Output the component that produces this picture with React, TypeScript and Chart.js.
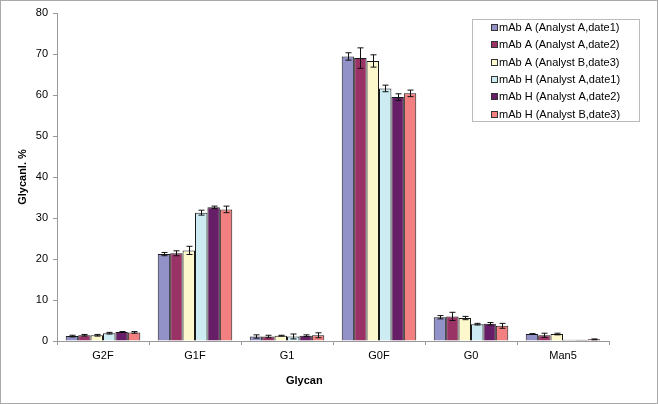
import React, { useEffect, useRef } from "react";
import { Chart, registerables } from "chart.js";

Chart.register(...registerables);

const categories = ["G2F", "G1F", "G1", "G0F", "G0", "Man5"];
const seriesNames = [
  "mAb A (Analyst A,date1)",
  "mAb A (Analyst A,date2)",
  "mAb A (Analyst B,date3)",
  "mAb H (Analyst A,date1)",
  "mAb H (Analyst A,date2)",
  "mAb H (Analyst B,date3)",
];
const seriesColors = ["#9292c9", "#993366", "#fcf8cc", "#cdebf3", "#661e66", "#f38080"];

const mAbA_d1 = [1.2, 21.2, 1.1, 69.4, 5.8, 1.7];
const mAbA_d2 = [1.4, 21.4, 1.1, 69.0, 6.0, 1.4];
const mAbA_d3 = [1.4, 22.1, 1.3, 68.3, 5.6, 1.7];
const mAbH_d1 = [1.9, 31.3, 1.1, 61.6, 4.1, 0.3];
const mAbH_d2 = [2.2, 32.6, 1.3, 59.5, 4.2, 0.3];
const mAbH_d3 = [2.1, 32.1, 1.4, 60.4, 3.7, 0.4];

const errA_d1 = [0.2, 0.4, 0.4, 0.9, 0.4, 0.1];
const errA_d2 = [0.2, 0.6, 0.3, 2.5, 1.0, 0.5];
const errA_d3 = [0.2, 1.0, 0.1, 1.5, 0.4, 0.2];
const errH_d1 = [0.2, 0.6, 0.6, 0.8, 0.2, 0.0];
const errH_d2 = [0.1, 0.3, 0.2, 0.8, 0.3, 0.0];
const errH_d3 = [0.2, 0.8, 0.6, 0.8, 0.6, 0.1];

const yTicks = [0, 10, 20, 30, 40, 50, 60, 70, 80];

const seriesValues = [mAbA_d1, mAbA_d2, mAbA_d3, mAbH_d1, mAbH_d2, mAbH_d3];
const seriesErrors = [errA_d1, errA_d2, errA_d3, errH_d1, errH_d2, errH_d3];

const FONT = "'Liberation Sans', Arial, sans-serif";

const errorBarPlugin = {
  id: "errorBars",
  afterDatasetsDraw(chart: any) {
    const ctx = chart.ctx;
    const y = chart.scales.y;
    ctx.save();
    ctx.strokeStyle = "#111";
    ctx.lineWidth = 1;
    chart.data.datasets.forEach((ds: any, di: number) => {
      const meta = chart.getDatasetMeta(di);
      meta.data.forEach((bar: any, i: number) => {
        const v = ds.data[i];
        const e = seriesErrors[di][i];
        if (!e) return;
        const x = Math.round(bar.x) + 0.5;
        const yt = y.getPixelForValue(v + e);
        const yb = y.getPixelForValue(v - e);
        ctx.beginPath();
        ctx.moveTo(x, yt);
        ctx.lineTo(x, yb);
        ctx.moveTo(x - 3, yt);
        ctx.lineTo(x + 3, yt);
        ctx.moveTo(x - 3, yb);
        ctx.lineTo(x + 3, yb);
        ctx.stroke();
      });
    });
    ctx.restore();
  },
};

const decorPlugin = {
  id: "decor",
  afterDraw(chart: any) {
    const ctx = chart.ctx;
    const area = chart.chartArea;
    ctx.save();
    // axis titles
    ctx.fillStyle = "#000";
    ctx.font = "bold 11px " + FONT;
    ctx.textAlign = "center";
    ctx.textBaseline = "middle";
    ctx.fillText("Glycan", area.left + (area.right - area.left) * 0.448, 380);
    ctx.save();
    ctx.translate(22, (area.top + area.bottom) / 2);
    ctx.rotate(-Math.PI / 2);
    ctx.fillText("Glycanl. %", 0, 0);
    ctx.restore();

    // legend
    const lx = 471.5, ly = 18.5, lw = 167, lh = 102;
    ctx.fillStyle = "#fff";
    ctx.fillRect(lx, ly, lw, lh);
    ctx.strokeStyle = "#bbbbbb";
    ctx.lineWidth = 1;
    ctx.strokeRect(lx, ly, lw, lh);
    ctx.font = "11px " + FONT;
    ctx.textAlign = "left";
    ctx.textBaseline = "middle";
    seriesNames.forEach((name, i) => {
      const cy = 27 + i * 17.3;
      ctx.fillStyle = seriesColors[i];
      ctx.fillRect(490.5, Math.round(cy) - 3.5, 6, 6);
      ctx.strokeStyle = "#333";
      ctx.strokeRect(490.5, Math.round(cy) - 3.5, 6, 6);
      ctx.fillStyle = "#000";
      ctx.fillText(name, 498, cy);
    });
    ctx.restore();
  },
};

export default function App() {
  const ref = useRef<HTMLCanvasElement>(null);
  useEffect(() => {
    document.body.style.margin = "0";
    const chart = new Chart(ref.current!, {
      type: "bar",
      data: {
        labels: categories,
        datasets: seriesNames.map((name, i) => ({
          label: name,
          data: seriesValues[i],
          backgroundColor: seriesColors[i],
          borderColor: "#1a1a1a",
          borderWidth: 1,
          categoryPercentage: 0.81,
          barPercentage: 1,
        })),
      },
      options: {
        responsive: false,
        animation: false,
        events: [],
        layout: { padding: { top: 12, right: 48, left: 0, bottom: 0 } },
        plugins: {
          legend: { display: false },
          tooltip: { enabled: false },
          title: { display: false },
        },
        scales: {
          x: {
            grid: {
              display: true,
              drawOnChartArea: false,
              drawTicks: true,
              tickLength: 4,
              color: "#999",
              offset: true,
            },
            border: { color: "#999" },
            ticks: { color: "#000", font: { family: FONT, size: 11 }, padding: 4 },
            afterFit: (s: any) => {
              s.height = 62;
            },
          },
          y: {
            min: 0,
            max: 80,
            afterBuildTicks: (s: any) => {
              s.ticks = yTicks.map((v) => ({ value: v }));
            },
            grid: {
              display: true,
              drawOnChartArea: false,
              drawTicks: true,
              tickLength: 4,
              color: "#999",
            },
            border: { color: "#999" },
            ticks: { color: "#000", font: { family: FONT, size: 11 }, padding: 5 },
            afterFit: (s: any) => {
              s.width = 56;
            },
          },
        },
      },
      plugins: [errorBarPlugin, decorPlugin],
    });
    return () => chart.destroy();
  }, []);
  return (
    <div
      style={{
        width: 658,
        height: 404,
        boxSizing: "border-box",
        border: "1px solid #aaa",
        position: "relative",
        background: "#fff",
      }}
    >
      <canvas ref={ref} width={656} height={402} style={{ display: "block" }} />
    </div>
  );
}
